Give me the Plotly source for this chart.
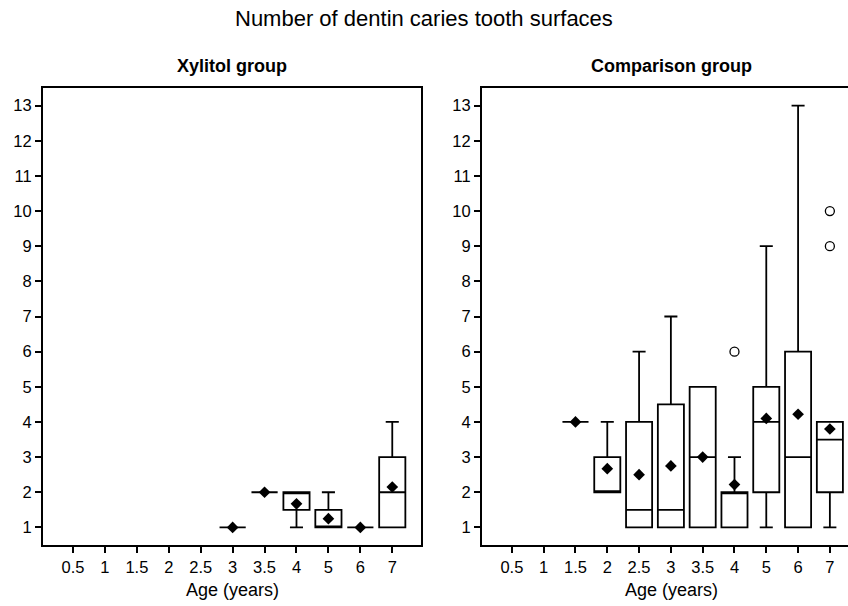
import plotly.graph_objects as go

ages = ["0.5", "1", "1.5", "2", "2.5", "3", "3.5", "4", "5", "6", "7"]

# Xylitol group
xy_x = ["3", "3.5", "4", "5", "6", "7"]
xy_q1 = [1, 2, 1.5, 1, 1, 1]
xy_med = [1, 2, 2, 1, 1, 2]
xy_q3 = [1, 2, 2, 1.5, 1, 3]
xy_lo = [1, 2, 1, 1, 1, 1]
xy_hi = [1, 2, 2, 2, 1, 4]
xy_mean = [1, 2, 1.67, 1.25, 1, 2.15]

# Comparison group
cp_x = ["1.5", "2", "2.5", "3", "3.5", "4", "5", "6", "7"]
cp_q1 = [4, 2, 1, 1, 1, 1, 2, 1, 2]
cp_med = [4, 2, 1.5, 1.5, 3, 2, 4, 3, 3.5]
cp_q3 = [4, 3, 4, 4.5, 5, 2, 5, 6, 4]
cp_lo = [4, 2, 1, 1, 1, 1, 1, 1, 1]
cp_hi = [4, 4, 6, 7, 5, 3, 9, 13, 4]
cp_mean = [4, 2.67, 2.5, 2.75, 3, 2.22, 4.1, 4.22, 3.8]
cp_out_x = ["4", "7", "7"]
cp_out_y = [6, 9, 10]

yticks = list(range(1, 14))

W, H = 848, 606
FONT = "Liberation Sans, Arial, Helvetica, sans-serif"

fig = go.Figure()

def add_panel(xa, ya, xs, q1, med, q3, lo, hi, mean, ox=None, oy=None):
    # dummy trace so every age category exists on the axis
    fig.add_trace(go.Scatter(x=ages, y=[None] * len(ages), xaxis=xa, yaxis=ya,
                             mode="markers", showlegend=False, hoverinfo="skip"))
    fig.add_trace(go.Box(x=xs, q1=q1, median=med, q3=q3, lowerfence=lo, upperfence=hi,
                         xaxis=xa, yaxis=ya, width=0.82, whiskerwidth=0.5,
                         fillcolor="white", line=dict(color="black", width=1.8),
                         showlegend=False, hoverinfo="skip"))
    fig.add_trace(go.Scatter(x=xs, y=mean, xaxis=xa, yaxis=ya, mode="markers",
                             marker=dict(symbol="diamond", size=9, color="black"),
                             showlegend=False, hoverinfo="skip"))
    if ox:
        fig.add_trace(go.Scatter(x=ox, y=oy, xaxis=xa, yaxis=ya, mode="markers",
                                 marker=dict(symbol="circle-open", size=9, color="black",
                                             line=dict(width=1.3)),
                                 showlegend=False, hoverinfo="skip"))

add_panel("x", "y", xy_x, xy_q1, xy_med, xy_q3, xy_lo, xy_hi, xy_mean)
add_panel("x2", "y2", cp_x, cp_q1, cp_med, cp_q3, cp_lo, cp_hi, cp_mean, cp_out_x, cp_out_y)

ydom = [1 - 545 / H, 1 - 88 / H]
common_x = dict(type="category", categoryorder="array", categoryarray=ages,
                showline=True, linecolor="black", linewidth=2, mirror=True,
                ticks="outside", ticklen=6, tickwidth=1.5, tickcolor="black",
                showgrid=False, zeroline=False, fixedrange=True,
                tickfont=dict(family=FONT, size=16.5, color="black"))
common_y = dict(range=[0.5, 13.5], tickvals=yticks, ticktext=[str(v) for v in yticks],
                showline=True, linecolor="black", linewidth=2,
                ticks="outside", ticklen=6, tickwidth=1.5, tickcolor="black",
                showgrid=False, zeroline=False, domain=ydom, fixedrange=True,
                tickfont=dict(family=FONT, size=16.5, color="black"))

fig.update_layout(
    width=W, height=H,
    margin=dict(l=0, r=0, t=0, b=0),
    paper_bgcolor="white", plot_bgcolor="white",
    xaxis=dict(common_x, domain=[43 / W, 421 / W], range=[-0.94, 10.9], anchor="y"),
    yaxis=dict(common_y, mirror=True, anchor="x"),
    xaxis2=dict(common_x, domain=[482 / W, 1.0], range=[-0.94, 10.57], anchor="y2"),
    yaxis2=dict(common_y, mirror=False, anchor="x2"),
    boxmode="overlay",
    annotations=[
        dict(text="Number of dentin caries tooth surfaces", x=0.5, y=1 - 19 / H,
             xref="paper", yref="paper", showarrow=False, xanchor="center", yanchor="middle",
             font=dict(family=FONT, size=22, color="black")),
        dict(text="<b>Xylitol group</b>", x=232 / W, y=1 - 66 / H,
             xref="paper", yref="paper", showarrow=False, xanchor="center", yanchor="middle",
             font=dict(family=FONT, size=18, color="black")),
        dict(text="<b>Comparison group</b>", x=671 / W, y=1 - 66 / H,
             xref="paper", yref="paper", showarrow=False, xanchor="center", yanchor="middle",
             font=dict(family=FONT, size=18, color="black")),
        dict(text="Age (years)", x=232 / W, y=1 - 590 / H,
             xref="paper", yref="paper", showarrow=False, xanchor="center", yanchor="middle",
             font=dict(family=FONT, size=18, color="black")),
        dict(text="Age (years)", x=671 / W, y=1 - 590 / H,
             xref="paper", yref="paper", showarrow=False, xanchor="center", yanchor="middle",
             font=dict(family=FONT, size=18, color="black")),
    ],
)

fig.write_html("out.html", config={"displayModeBar": False},
               post_script="document.body.style.margin='0';")
